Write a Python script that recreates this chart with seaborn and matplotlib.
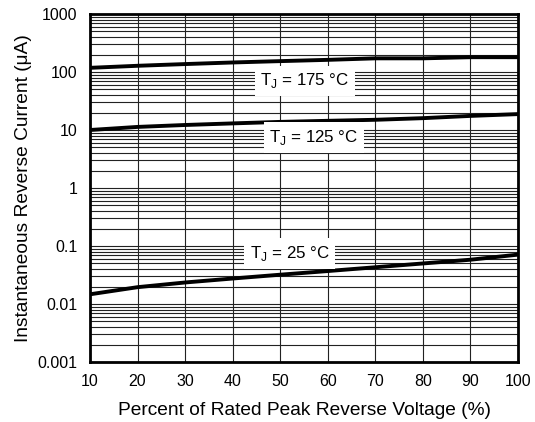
import matplotlib
matplotlib.use("Agg")
import matplotlib.pyplot as plt
import seaborn as sns
import pandas as pd
import numpy as np
from matplotlib.ticker import FixedLocator, LogLocator, NullFormatter

voltage_pct = [10, 20, 30, 40, 50, 60, 70, 80, 90, 100]
i_175 = [118, 128, 137, 146, 154, 162, 172, 172, 180, 180]
i_125 = [10.0, 11.3, 12.2, 13.0, 13.8, 14.4, 15.0, 16.0, 17.5, 18.8]
i_25 = [0.0147, 0.0195, 0.0235, 0.0275, 0.032, 0.037, 0.043, 0.050, 0.058, 0.071]
series_labels = ["175", "125", "25"]
y_ticks = [0.001, 0.01, 0.1, 1, 10, 100, 1000]
y_tick_labels = ["0.001", "0.01", "0.1", "1", "10", "100", "1000"]
x_ticks = [10, 20, 30, 40, 50, 60, 70, 80, 90, 100]

sns.set_theme(style="white")
plt.rcParams["font.family"] = ["Liberation Sans", "DejaVu Sans"]
plt.rcParams["mathtext.fontset"] = "custom"
plt.rcParams["mathtext.rm"] = "Liberation Sans"
plt.rcParams["text.color"] = "black"
plt.rcParams["axes.labelcolor"] = "black"

df = pd.concat([
    pd.DataFrame({"x": voltage_pct, "y": i_175, "T": "175"}),
    pd.DataFrame({"x": voltage_pct, "y": i_125, "T": "125"}),
    pd.DataFrame({"x": voltage_pct, "y": i_25, "T": "25"}),
])

fig = plt.figure(figsize=(5.35, 4.22), dpi=100)
ax = fig.add_axes([90/535, 1 - 362/422, (518-90)/535, (362-14)/422])

ax.set_yscale("log")
ax.set_xlim(10, 100)
ax.set_ylim(0.001, 1000)

# grid
ax.yaxis.set_minor_locator(LogLocator(base=10, subs=np.arange(2, 10)))
ax.yaxis.set_minor_formatter(NullFormatter())
ax.grid(True, which="both", axis="y", color="#222222", linewidth=0.8)
ax.grid(True, which="major", axis="x", color="#222222", linewidth=0.8)
ax.set_axisbelow(True)

sns.lineplot(data=df, x="x", y="y", hue="T", palette=["black"]*3,
             linewidth=2.8, legend=False, ax=ax, zorder=3)

ax.set_xticks(x_ticks)
ax.set_xticklabels([str(v) for v in x_ticks])
ax.yaxis.set_major_locator(FixedLocator(y_ticks))
ax.set_yticklabels(y_tick_labels)
ax.tick_params(axis="y", which="both", length=0, labelsize=11.5, colors="black", pad=9)
ax.tick_params(axis="x", which="both", length=0, labelsize=11.5, colors="black", pad=9)

for s in ax.spines.values():
    s.set_visible(True)
    s.set_color("black")
    s.set_linewidth(2)

ax.set_xlabel("Percent of Rated Peak Reverse Voltage (%)", fontsize=13.8, labelpad=9, color="black")
ax.set_ylabel("Instantaneous Reverse Current (μA)", fontsize=13.8, labelpad=4, color="black")

box = dict(facecolor="white", edgecolor="none", pad=4)
ax.text(55.2, 70, r"T$_\mathrm{J}$ = 175 °C", fontsize=12.2, ha="center", va="center", bbox=box, zorder=4, color="black")
ax.text(57.1, 7.4, r"T$_\mathrm{J}$ = 125 °C", fontsize=12.2, ha="center", va="center", bbox=box, zorder=4, color="black")
ax.text(52.0, 0.074, r"T$_\mathrm{J}$ = 25 °C", fontsize=12.2, ha="center", va="center", bbox=box, zorder=4, color="black")

fig.savefig("out.png", dpi=100)
